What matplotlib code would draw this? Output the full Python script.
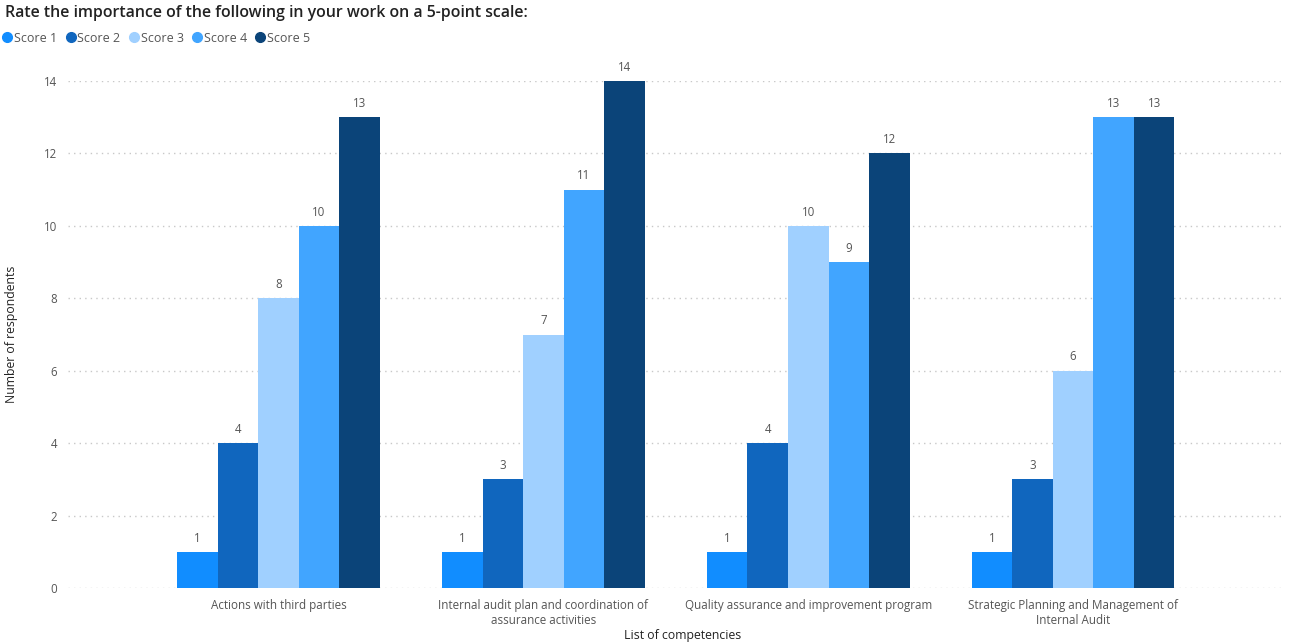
import numpy as np
import matplotlib.pyplot as plt
from matplotlib.lines import Line2D

plt.rcParams['font.family'] = ['Open Sans', 'DejaVu Sans']

categories = ['Actions with third parties',
              'Internal audit plan and coordination of\nassurance activities',
              'Quality assurance and improvement program',
              'Strategic Planning and Management of\nInternal Audit']
series = ['Score 1', 'Score 2', 'Score 3', 'Score 4', 'Score 5']
score1 = [1, 1, 1, 1]
score2 = [4, 3, 4, 3]
score3 = [8, 7, 10, 6]
score4 = [10, 11, 9, 13]
score5 = [13, 14, 12, 13]
values = [score1, score2, score3, score4, score5]
colors = ['#118DFF', '#1066BE', '#A0D0FF', '#41A5FF', '#0B4479']

fig = plt.figure(figsize=(12.9, 6.44), dpi=100)
ax = fig.add_axes([68 / 1290, 56 / 644, (1285 - 68) / 1290, 507 / 644])

x = np.arange(len(categories))
w = 0.153
for i, (name, vals) in enumerate(zip(series, values)):
    pos = x + (i - 2) * w
    ax.bar(pos, vals, width=w, color=colors[i], label=name, zorder=3)
    for px, v in zip(pos, vals):
        ax.text(px, v + 0.2, str(v), ha='center', va='bottom',
                fontsize=8.3, color='#555555', clip_on=False)

ax.set_xlim(-0.795, 3.8)
ax.set_ylim(0, 14)
ax.set_yticks(np.arange(0, 15, 2))
ax.set_xticks(x)
ax.set_xticklabels(categories, fontsize=8.4, color='#555555', linespacing=1.2)
ax.tick_params(axis='y', labelsize=8.3, labelcolor='#555555', length=0, pad=8)
ax.tick_params(axis='x', length=0, pad=8)
ax.grid(axis='y', linestyle=(0, (1, 3)), color='#C8C8C8', linewidth=1, zorder=0)
for s in ax.spines.values():
    s.set_visible(False)

ax.set_ylabel('Number of respondents', fontsize=8.8, color='#222222', fontweight='medium')
ax.yaxis.set_label_coords(-50 / 1217, 0.5)
ax.set_xlabel('List of competencies', fontsize=8.8, color='#222222', fontweight='medium')
ax.xaxis.set_label_coords(0.505, -41 / 507)

fig.text(5 / 1290, 1 - 13 / 644, 'Rate the importance of the following in your work on a 5-point scale:',
         fontsize=11.4, color='#222222', fontweight='semibold', va='center', ha='left')

handles = [Line2D([], [], marker='o', linestyle='none', markersize=7,
                  markerfacecolor=c, markeredgecolor=c) for c in colors]
fig.legend(handles, series, loc='center left', bbox_to_anchor=(-0.003, 1 - 38 / 644),
           ncol=5, frameon=False, fontsize=9, handletextpad=0.05, columnspacing=0.55,
           handlelength=1.0, labelcolor='#555555', borderaxespad=0)

fig.savefig('out.png', dpi=100)
